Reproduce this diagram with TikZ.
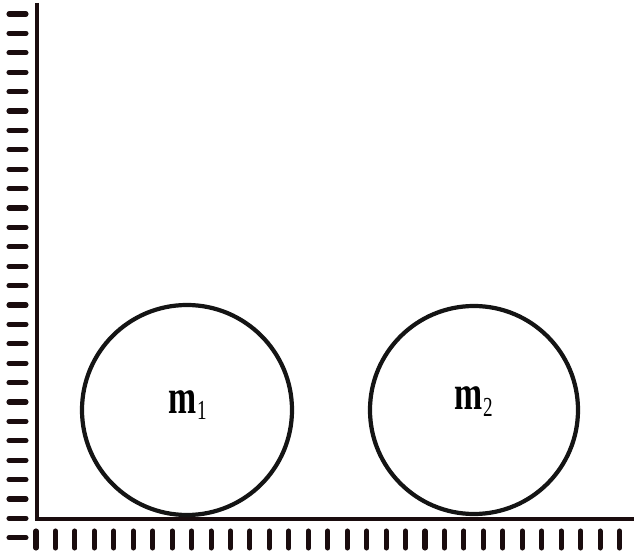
\documentclass[tikz,border=0pt]{standalone}
\usepackage{fontspec}
\setmainfont{Liberation Serif}

\begin{document}
\begin{tikzpicture}[x=0.025cm, y=0.025cm]
    % Define sizes
    \def\floorY{36}
    \def\wallX{37}

    \definecolor{lineColour}{HTML}{1A0C0E}
    \definecolor{ballColour}{HTML}{141414}

    \tikzset{
        hatch/.style={line width=3.6pt, line cap=round, draw=lineColour},
        ball/.style={circle, draw=ballColour, line width=3pt, inner sep=0pt},
        massLabel/.style={anchor=base west, xscale=0.8, yscale=1.15,
            font=\fontsize{30}{30}\selectfont}
    }

    % Fix the picture size
    \useasboundingbox (0,0) rectangle (634,555);

    % Draw wall and floor
    \coordinate (wallTop) at (\wallX,552);
    \coordinate (corner) at (\wallX,\floorY);
    \coordinate (floorEnd) at (634,\floorY);
    \draw[line width=2.6pt, draw=lineColour] (wallTop) -- (corner) -- (floorEnd);

    % Hatch marks of the wall
    \foreach \k in {0,...,27}
        \draw[hatch] (9,541-19.4*\k) -- (26,541-19.4*\k);

    % Hatch marks of the floor
    \foreach \k in {0,...,30}
        \draw[hatch] (36+19.45*\k,24) -- (36+19.45*\k,7);

    % Draw the two balls
    \node[ball, minimum size=210*0.025cm] (ballOne) at (187,145) {};
    \node[ball, minimum size=208*0.025cm] (ballTwo) at (474,145) {};

    % Label the masses
    \node[massLabel] (massOne) at (165,142) {\textbf{m}\raisebox{-4pt}{\fontsize{17}{17}\selectfont 1}};
    \node[massLabel] (massTwo) at (451,145) {\textbf{m}\raisebox{-4pt}{\fontsize{17}{17}\selectfont 2}};

\end{tikzpicture}
\end{document}
